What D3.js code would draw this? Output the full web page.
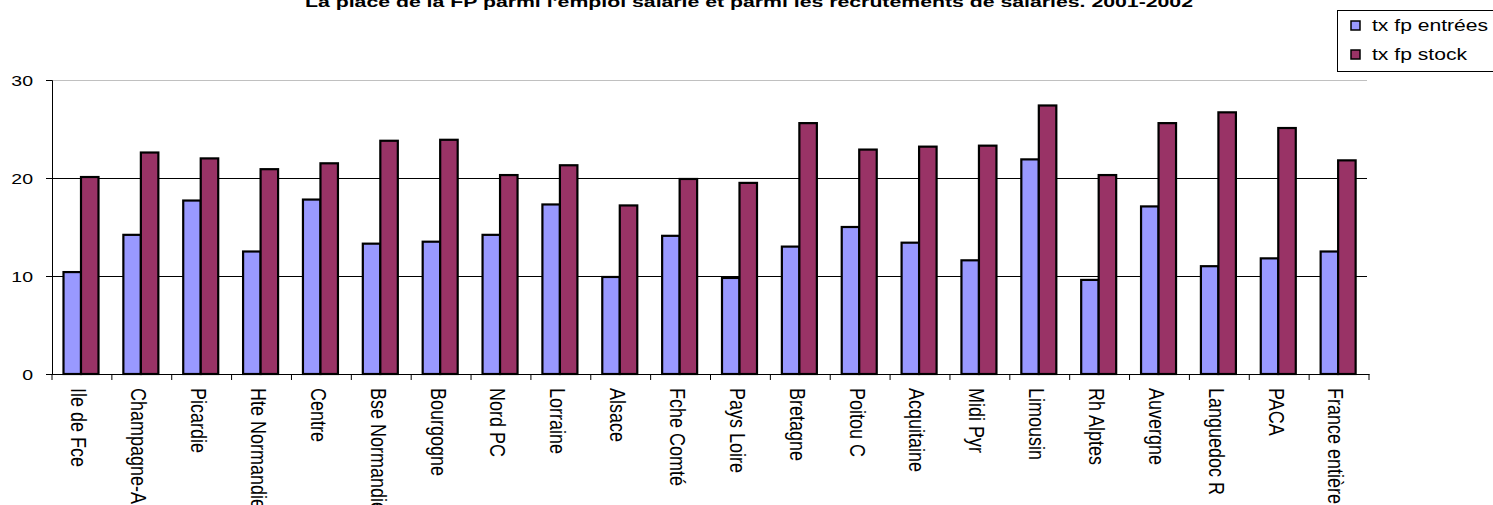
<!DOCTYPE html>
<html>
<head>
<meta charset="utf-8">
<script src="https://cdn.jsdelivr.net/npm/d3@7"></script>
<style>
    body { margin: 0; background: #fff; }
    #chartContainer { width: 1493px; height: 505px; overflow: hidden; }
    text { font-family: Arial, "Liberation Sans", sans-serif; fill: #000; }
</style>
</head>
<body>
<div id="chartContainer"></div>
<script>
const regions = ["Ile de Fce", "Champagne-A", "Picardie", "Hte Normandie", "Centre",
    "Bse Normandie", "Bourgogne", "Nord PC", "Lorraine", "Alsace", "Fche Comté",
    "Pays Loire", "Bretagne", "Poitou C", "Acquitaine", "Midi Pyr", "Limousin",
    "Rh Alptes", "Auvergne", "Languedoc R", "PACA", "France entière"];
const tx_entrees = [10.4, 14.2, 17.7, 12.5, 17.8, 13.3, 13.5, 14.2, 17.3, 9.9, 14.1,
    9.8, 13.0, 15.0, 13.4, 11.6, 21.9, 9.6, 17.1, 11.0, 11.8, 12.5];
const tx_stock = [20.1, 22.6, 22.0, 20.9, 21.5, 23.8, 23.9, 20.3, 21.3, 17.2, 19.9,
    19.5, 25.6, 22.9, 23.2, 23.3, 27.4, 20.3, 25.6, 26.7, 25.1, 21.8];
const series_names = ["tx fp entrées", "tx fp stock"];
const y_ticks = [0, 10, 20, 30];
const title_text = "La place de la FP parmi l'emploi salarié et parmi les recrutements de salariés. 2001-2002";

const colors = ["#9999ff", "#993366"];
// the source picture is stretched sideways, so text is too
const stretch = 1.3;

function render_chart() {
    const width = 1493, height = 505;
    const left = 52, right = 1369, top = 80, bottom = 374;

    let svg = d3.select('#chartContainer')
        .append("svg")
        .attr("width", width)
        .attr("height", height);

    let x = d3.scaleBand().domain(regions).range([left, right]);
    let x1 = d3.scaleBand().domain(series_names).range([11.5, 46.5]);
    let y = d3.scaleLinear().domain([0, 30]).range([bottom, top]);

    // gridlines
    svg.append("g")
        .attr("transform", "translate(" + left + ",0)")
        .call(d3.axisLeft(y).tickValues(y_ticks).tickSize(-(1367 - left)).tickFormat(""))
        .call(g => g.select(".domain").remove())
        .selectAll("line")
        .attr("stroke", d => d === 30 ? "#c0c0c0" : "#000")
        .attr("stroke-width", 1);

    // bars
    let table = regions.map((r, i) => ({region: r, values: [tx_entrees[i], tx_stock[i]]}));
    let groups = svg.append("g").selectAll("g")
        .data(table)
        .enter()
        .append("g")
        .attr("transform", d => "translate(" + x(d.region) + ",0)");

    groups.selectAll("rect")
        .data(d => d.values.map((v, k) => ({key: series_names[k], value: v, k: k})))
        .enter()
        .append("rect")
        .attr("x", d => x1(d.key))
        .attr("width", x1.bandwidth())
        .attr("y", d => y(d.value))
        .attr("height", d => y(0) - y(d.value))
        .attr("fill", d => colors[d.k])
        .attr("stroke", "#000")
        .attr("stroke-width", 2.2);

    // y axis
    svg.append("g")
        .attr("transform", "translate(" + left + ",0)")
        .call(d3.axisLeft(y).tickValues(y_ticks).tickSize(6).tickFormat(d3.format("d")))
        .call(g => g.selectAll("line, path").attr("stroke", "#000"))
        .selectAll("text")
        .attr("x", 0)
        .attr("dy", "0.36em")
        .attr("transform", "translate(-19,0) scale(" + stretch + ",1)")
        .style("font-size", "15px");

    // x axis with rotated labels
    let xAxis = svg.append("g")
        .attr("transform", "translate(0," + bottom + ")")
        .call(d3.axisBottom(x).tickSize(0).tickSizeOuter(0));
    xAxis.select(".domain").attr("stroke", "#000");
    xAxis.selectAll("text")
        .attr("x", 0)
        .attr("y", 0)
        .attr("dy", "0.35em")
        .attr("text-anchor", "start")
        .attr("transform", "translate(-3,14) scale(1.2,1) rotate(90)")
        .style("font-size", "18px");

    // Excel style ticks between the categories
    xAxis.selectAll(".sep")
        .data(regions.map(r => x(r)).concat([right]))
        .enter()
        .append("line")
        .attr("x1", d => d)
        .attr("x2", d => d)
        .attr("y1", 0)
        .attr("y2", 6)
        .attr("stroke", "#000");

    // title, partly cut by the top of the picture
    svg.append("text")
        .attr("x", 305)
        .attr("y", 6.5)
        .attr("textLength", 888)
        .attr("lengthAdjust", "spacingAndGlyphs")
        .style("font-size", "14px")
        .style("font-weight", "bold")
        .text(title_text);

    // legend
    let legend = svg.append("g");
    legend.append("rect")
        .attr("x", 1337.5)
        .attr("y", 10.5)
        .attr("width", 200)
        .attr("height", 61)
        .attr("fill", "#fff")
        .attr("stroke", "#000");

    let items = legend.selectAll(".item")
        .data(series_names)
        .enter()
        .append("g")
        .attr("transform", (d, i) => "translate(1351," + (21 + i * 29) + ")");
    items.append("rect")
        .attr("width", 9)
        .attr("height", 9)
        .attr("fill", (d, i) => colors[i])
        .attr("stroke", "#000")
        .attr("stroke-width", 1.5);
    items.append("text")
        .attr("x", 0)
        .attr("y", 0)
        .attr("transform", "translate(21,10) scale(1.32,1)")
        .style("font-size", "16px")
        .text(d => d);
}

render_chart();
</script>
</body>
</html>
